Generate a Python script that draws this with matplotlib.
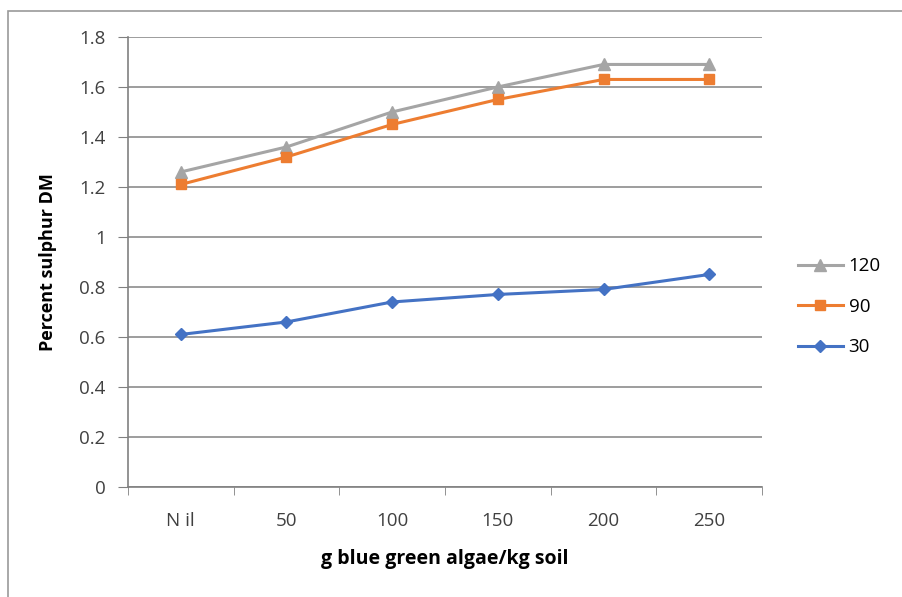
import matplotlib.pyplot as plt
from matplotlib.patches import Rectangle

# data
categories = ['N il', '50', '100', '150', '200', '250']
s120 = [1.26, 1.36, 1.50, 1.60, 1.69, 1.69]
s90 = [1.21, 1.32, 1.45, 1.55, 1.63, 1.63]
s30 = [0.61, 0.66, 0.74, 0.77, 0.79, 0.85]
yticks = [0, 0.2, 0.4, 0.6, 0.8, 1, 1.2, 1.4, 1.6, 1.8]

plt.rcParams['font.family'] = ['Open Sans', 'DejaVu Sans']

fig = plt.figure(figsize=(9.03, 5.97), dpi=100)
ax = fig.add_axes([0.1417, 0.1843, 0.7022, 0.7538])

# outer chart frame (left/top visible)
fig.patches.append(Rectangle((0.009, -0.05), 1.2, 1.0316, transform=fig.transFigure,
                             fill=False, edgecolor='#9a9a9a', linewidth=1.2))

x = list(range(len(categories)))
ax.plot(x, s120, color='#A5A5A5', marker='^', markersize=8, linewidth=2.2, label='120')
ax.plot(x, s90, color='#ED7D31', marker='s', markersize=7, linewidth=2.2, label='90')
ax.plot(x, s30, color='#4472C4', marker='D', markersize=6, linewidth=2.2, label='30')

ax.set_xlim(-0.5, len(categories) - 0.5)
ax.set_ylim(0, 1.8)
ax.set_yticks(yticks)
ax.set_yticklabels([f'{v:g}' for v in yticks])
ax.set_xticks(x)
ax.set_xticklabels(categories)
ax.set_xticks([i - 0.5 for i in range(len(categories) + 1)], minor=True)
ax.tick_params(axis='x', which='major', length=0, pad=18, labelsize=13.5, labelcolor='#404040')
ax.tick_params(axis='x', which='minor', length=6, color='#808080', direction='out')
ax.tick_params(axis='y', length=7, color='#808080', pad=9, labelsize=13.5, labelcolor='#404040')

ax.grid(axis='y', color='#8c8c8c', linewidth=1.2)
ax.set_axisbelow(True)
for side in ['top', 'right']:
    ax.spines[side].set_visible(False)
for side in ['left', 'bottom']:
    ax.spines[side].set_color('#808080')
    ax.spines[side].set_linewidth(1.2)

ax.set_xlabel('g blue green algae/kg soil', fontsize=14, fontweight='bold', labelpad=14)
ax.set_ylabel('Percent sulphur DM', fontsize=13, fontweight='bold', labelpad=16)

ax.legend(loc='center left', bbox_to_anchor=(1.03, 0.40), frameon=False, fontsize=13.5,
          handlelength=2.4, labelspacing=1.2, handletextpad=0.3)

fig.savefig('out.png', dpi=100)
